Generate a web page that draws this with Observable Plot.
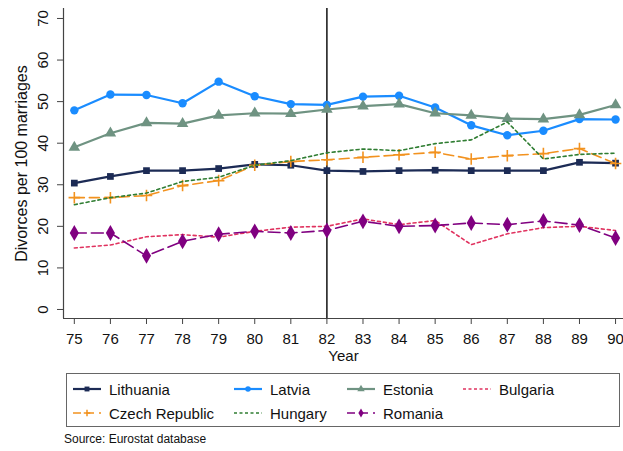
<!DOCTYPE html>
<html>
<head>
<meta charset="utf-8">
<script src="https://cdn.jsdelivr.net/npm/d3@7"></script>
<script src="https://cdn.jsdelivr.net/npm/@observablehq/plot@0.6"></script>
<style>
  body { margin: 0; background: #fff; font-family: "Liberation Sans", Arial, sans-serif; }
  #wrap { position: relative; width: 623px; height: 451px; }
  #legend { position: absolute; left: 66px; top: 373px; width: 552px; height: 52px; border: 1px solid #666; }
  .item { position: absolute; display: flex; align-items: center; font-size: 15px; color: #111; height: 20px; }
  .item svg { margin-right: 8px; }
  #source { position: absolute; left: 64px; top: 432px; font-size: 12px; color: #111; }
</style>
</head>
<body>
<div id="wrap">
  <div id="chart"></div>
  <div id="legend"></div>
  <div id="source">Source: Eurostat database</div>
</div>
<script>
const years = [75, 76, 77, 78, 79, 80, 81, 82, 83, 84, 85, 86, 87, 88, 89, 90];
const lithuania = [30.4, 32.0, 33.4, 33.4, 33.9, 34.9, 34.7, 33.4, 33.2, 33.4, 33.5, 33.4, 33.4, 33.4, 35.4, 35.2];
const latvia = [47.9, 51.7, 51.6, 49.6, 54.8, 51.3, 49.4, 49.2, 51.2, 51.4, 48.6, 44.3, 41.9, 43.0, 45.8, 45.7];
const estonia = [39.0, 42.4, 44.9, 44.7, 46.7, 47.2, 47.1, 48.1, 48.9, 49.4, 47.2, 46.7, 45.9, 45.8, 46.8, 49.2];
const bulgaria = [14.8, 15.5, 17.5, 18.0, 17.4, 18.8, 19.8, 20.0, 21.8, 20.4, 21.4, 15.6, 18.2, 19.7, 20.0, 19.0];
const czech = [26.9, 26.9, 27.4, 29.8, 31.0, 34.7, 35.6, 36.0, 36.6, 37.2, 37.8, 36.2, 37.0, 37.5, 38.7, 35.1];
const hungary = [25.2, 26.9, 28.0, 30.8, 31.8, 34.7, 35.8, 37.7, 38.6, 38.2, 39.9, 40.8, 45.1, 36.2, 37.3, 37.6];
const romania = [18.4, 18.4, 12.9, 16.4, 18.1, 18.8, 18.4, 19.0, 21.2, 20.0, 20.2, 20.8, 20.4, 21.3, 20.3, 17.2];
const yTicks = [0, 10, 20, 30, 40, 50, 60, 70];
const markerYear = 82;

const series = [
  {name: "Lithuania", values: lithuania, color: "#1c2b55", dash: null, width: 2.2, symbol: "square", r: 3.8, filled: true},
  {name: "Latvia", values: latvia, color: "#1a8cff", dash: null, width: 2.2, symbol: "circle", r: 4.2, filled: true},
  {name: "Estonia", values: estonia, color: "#6f9382", dash: null, width: 2.2, symbol: "triangle", r: 4.3, filled: true},
  {name: "Bulgaria", values: bulgaria, color: "#e0325f", dash: "3,3", width: 1.6, symbol: null},
  {name: "Czech Republic", values: czech, color: "#f2921f", dash: "10,5", width: 1.6, symbol: "plus", r: 3.8, filled: false},
  {name: "Hungary", values: hungary, color: "#2f7d32", dash: "3,3", width: 1.6, symbol: null},
  {name: "Romania", values: romania, color: "#800080", dash: "12,5", width: 1.6, symbol: "diamond", r: 4.8, filled: true}
];

const W = 623, H = 362;
const xDom = [74.7, 90.22], yDom = [-2.17, 72.4];

const marks = [];
marks.push(Plot.ruleX([xDom[0]], {stroke: "#444", strokeWidth: 1.2}));
marks.push(Plot.ruleY([yDom[0]], {stroke: "#444", strokeWidth: 1.2}));
marks.push(Plot.axisY({ticks: yTicks, tickSize: 6, text: null, stroke: "#444", label: "Divorces per 100 marriages", labelAnchor: "center", labelArrow: false, labelOffset: 48, fontSize: 16}));
marks.push(Plot.text(yTicks, {y: d => d, text: d => String(d), frameAnchor: "left", dx: -20, rotate: -90, textAnchor: "middle", fontSize: 15, fill: "#111"}));
marks.push(Plot.axisX({ticks: years, tickSize: 6, tickPadding: 9, tickFormat: d => String(d), stroke: "#444", fontSize: 15, label: "Year", labelAnchor: "center", labelArrow: false, labelOffset: 42}));
marks.push(Plot.ruleX([markerYear], {stroke: "#000", strokeWidth: 1.4}));

for (const s of series) {
  const data = years.map((yr, i) => ({year: yr, value: s.values[i]}));
  marks.push(Plot.line(data, {x: "year", y: "value", stroke: s.color, strokeWidth: s.width, strokeDasharray: s.dash || undefined}));
  if (s.symbol) {
    if (s.filled) marks.push(Plot.dot(data, {x: "year", y: "value", symbol: s.symbol, r: s.r, fill: s.color, stroke: "none"}));
    else marks.push(Plot.dot(data, {x: "year", y: "value", symbol: s.symbol, r: s.r, stroke: s.color, strokeWidth: 1.6}));
  }
}

const chart = Plot.plot({
  width: W, height: H,
  marginLeft: 63, marginRight: 0, marginTop: 8, marginBottom: H - 318,
  style: {fontFamily: "'Liberation Sans', Arial, sans-serif", color: "#111", background: "#fff"},
  x: {domain: xDom},
  y: {domain: yDom},
  marks
});
document.getElementById("chart").appendChild(chart);

// Legend
const legendPos = {
  "Lithuania": [6, 5], "Latvia": [167, 5], "Estonia": [280, 5], "Bulgaria": [396, 5],
  "Czech Republic": [6, 29], "Hungary": [167, 29], "Romania": [280, 29]
};
const legend = document.getElementById("legend");
for (const s of series) {
  const [lx, ly] = legendPos[s.name];
  const item = document.createElement("div");
  item.className = "item";
  item.style.left = lx + "px";
  item.style.top = ly + "px";
  const svg = d3.create("svg").attr("width", 28).attr("height", 14);
  svg.append("line").attr("x1", 0).attr("x2", 28).attr("y1", 7).attr("y2", 7)
    .attr("stroke", s.color).attr("stroke-width", s.width)
    .attr("stroke-dasharray", s.dash ? (s.dash === "3,3" ? "3,2.5" : "8,5") : null);
  if (s.symbol) {
    const sym = {square: d3.symbolSquare, circle: d3.symbolCircle, triangle: d3.symbolTriangle, diamond: d3.symbolDiamond, plus: d3.symbolPlus}[s.symbol];
    const path = svg.append("path").attr("transform", "translate(14,7)")
      .attr("d", d3.symbol(sym, s.symbol === "plus" ? 16 : 24)());
    if (s.filled) path.attr("fill", s.color);
    else path.attr("fill", "none").attr("stroke", s.color).attr("stroke-width", 1.5);
  }
  item.appendChild(svg.node());
  const span = document.createElement("span");
  span.textContent = s.name;
  item.appendChild(span);
  legend.appendChild(item);
}
</script>
</body>
</html>
